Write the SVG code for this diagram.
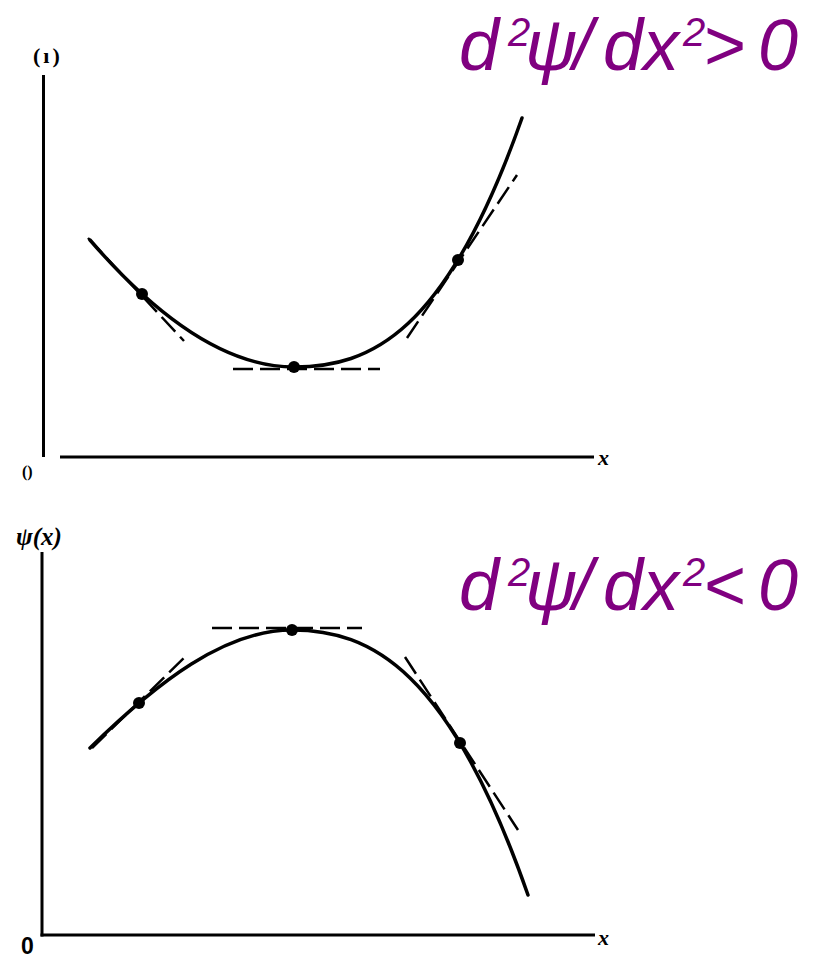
<svg xmlns="http://www.w3.org/2000/svg" width="825" height="959" viewBox="0 0 825 959">
<style>
.axis{stroke:#000;stroke-width:3;fill:none;stroke-linecap:butt}
.curve{stroke:#000;stroke-width:3.5;fill:none;stroke-linecap:round}
.tan{stroke:#000;stroke-width:2.5;fill:none;stroke-dasharray:20 7}
.dot{fill:#000}
.lbl{font-family:"Liberation Serif",serif;font-weight:bold;font-style:italic;fill:#000}
.eq{font-family:"Liberation Sans",Arial,sans-serif;font-style:italic;fill:#800080}
</style>
<rect width="825" height="959" fill="#fff"/>
<g id="eq-top">
<text class="eq" font-size="72" y="70"><tspan x="459">d</tspan><tspan x="508" y="46" font-size="40">2</tspan><tspan x="525" y="70">ψ</tspan><tspan x="573">/</tspan><tspan x="603">d</tspan><tspan x="643">x</tspan><tspan x="683" y="46" font-size="40">2</tspan><tspan x="703" y="70">&gt;</tspan><tspan x="758">0</tspan></text>
</g>
<g id="eq-bottom">
<text class="eq" font-size="72" y="610"><tspan x="459">d</tspan><tspan x="508" y="586" font-size="40">2</tspan><tspan x="525" y="610">ψ</tspan><tspan x="573">/</tspan><tspan x="603">d</tspan><tspan x="643">x</tspan><tspan x="683" y="586" font-size="40">2</tspan><tspan x="703" y="610">&lt;</tspan><tspan x="758">0</tspan></text>
</g>
<g id="plot-top">
<line class="axis" x1="43.5" y1="75" x2="43.5" y2="457"/>
<line class="axis" x1="60" y1="457" x2="594" y2="457"/>
<text class="lbl" x="33" y="63" font-size="22" letter-spacing="3" style="font-style:normal">(ı)</text>
<text class="lbl" x="22" y="477" font-size="16" style="font-style:normal">()</text>
<text class="lbl" x="598" y="465" font-size="22">x</text>
</g>
<g id="curve-top">
<path class="curve" d="M90,240 C158,318.8 226,367 294,367 C370,367 446,334.1 522,118"/>
<line class="tan" x1="88" y1="238" x2="184" y2="341"/>
<line class="tan" x1="233" y1="369" x2="380" y2="369"/>
<line class="tan" x1="407" y1="338" x2="517" y2="175"/>
<circle class="dot" cx="142" cy="294" r="6"/>
<circle class="dot" cx="294" cy="367" r="6"/>
<circle class="dot" cx="458" cy="260" r="6"/>
</g>
<g id="plot-bottom">
<line class="axis" x1="42" y1="552" x2="42" y2="936.5"/>
<line class="axis" x1="40.5" y1="935" x2="595" y2="935"/>
<text class="lbl" x="16" y="545" font-size="25">ψ(x)</text>
<text x="21" y="954" font-size="23" font-weight="bold" font-family="Liberation Sans,Arial,sans-serif">0</text>
<text class="lbl" x="598" y="945" font-size="22">x</text>
</g>
<g id="curve-bottom">
<path class="curve" d="M90,748 C157.3,682.1 224.7,630 292,630 C370.7,630 449.3,669.7 528,895"/>
<line class="tan" x1="92" y1="748" x2="185" y2="657"/>
<line class="tan" x1="212" y1="628" x2="362" y2="628"/>
<line class="tan" x1="405" y1="657" x2="518" y2="830"/>
<circle class="dot" cx="139" cy="703" r="6"/>
<circle class="dot" cx="292" cy="630" r="6"/>
<circle class="dot" cx="460" cy="743" r="6"/>
</g>
</svg>
